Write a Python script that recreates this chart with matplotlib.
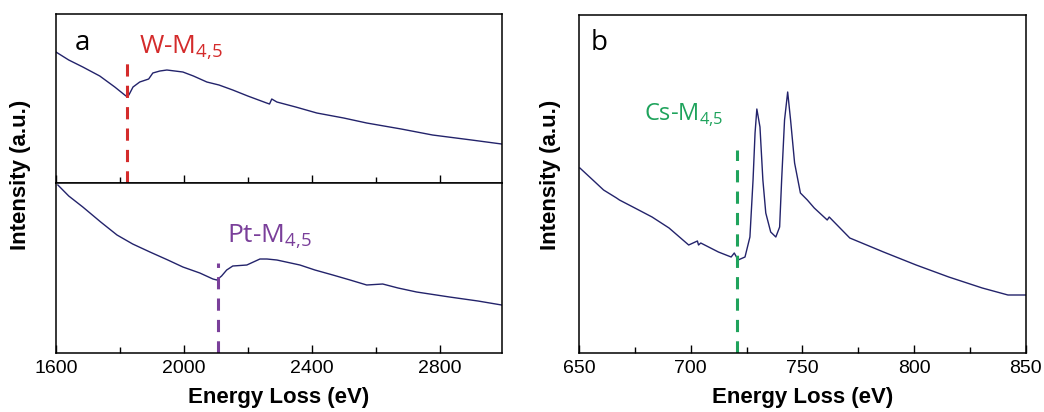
import numpy as np
import matplotlib
matplotlib.use("Agg")
import matplotlib.pyplot as plt
from matplotlib.ticker import MultipleLocator, NullLocator

# ---------------- data ----------------
# panel a, top: W-M4,5 edge
w_energy = [1600, 1640, 1684, 1737, 1784, 1819, 1828, 1841, 1862, 1890, 1903, 1925,
            1947, 1997, 2030, 2072, 2110, 2153, 2200, 2259, 2268, 2275, 2291,
            2350, 2416, 2500, 2572, 2680, 2778, 2900, 2994]
w_intensity = [131, 123, 116, 107, 96, 87, 88, 96, 101, 104, 110, 112,
               113, 111, 107, 101, 98, 93, 87, 80, 79, 84, 81,
               76, 70, 65, 60, 54, 48, 43, 39]

# panel a, bottom: Pt-M4,5 edge
pt_energy = [1606, 1640, 1684, 1740, 1791, 1840, 1894, 1950, 1997, 2050, 2091,
             2103, 2118, 2134, 2153, 2197, 2238, 2260, 2291, 2363, 2410, 2466,
             2520, 2572, 2622, 2670, 2728, 2831, 2920, 2994]
pt_intensity = [168, 157, 146, 131, 118, 109, 101, 93, 86, 80, 74,
                73, 77, 83, 87, 88, 94, 94, 93, 88, 83, 78,
                73, 68, 69, 65, 61, 56, 52, 48]

# panel b: Cs-M4,5 edge
cs_energy = [650.4, 656.2, 661.0, 666.8, 668.1, 675.0, 682.7, 690.3, 699.1, 703.0,
             703.5, 704.5, 712.4, 718.1, 719.5, 721.2, 724.3, 726.5, 727.9, 728.8,
             729.6, 731.0, 732.3, 733.6, 735.8, 738.1, 739.8, 740.7, 742.0, 743.4,
             744.7, 746.5, 749.1, 752.2, 755.3, 761.1, 762.0, 771.2, 786.3, 800.9,
             815.5, 830.5, 842.0, 850.0]
cs_intensity = [185, 173, 163, 155, 153, 145, 136, 125, 108, 112,
                108, 110, 101, 96, 100, 93, 96, 116, 173, 220,
                244, 226, 173, 140, 121, 116, 126, 173, 233, 261,
                233, 190, 160, 153, 145, 133, 136, 115, 101, 88,
                76, 65, 58, 58]

w_edge, pt_edge, cs_edge = 1822, 2106, 720.8

line_color = "#23236b"

plt.rcParams["font.family"] = ["Liberation Sans", "DejaVu Sans"]
plt.rcParams["mathtext.fontset"] = "custom"
plt.rcParams["mathtext.rm"] = "Open Sans"

fig = plt.figure(figsize=(10.44, 4.12), dpi=100)

ax_top = fig.add_axes([0.0536, 0.5558, 0.4272, 0.4102])
ax_bot = fig.add_axes([0.0536, 0.1432, 0.4272, 0.4126])
ax_b = fig.add_axes([0.5546, 0.1432, 0.4280, 0.8204])

for ax in (ax_top, ax_bot, ax_b):
    ax.yaxis.set_major_locator(NullLocator())
    ax.tick_params(axis="x", which="major", direction="in", length=6, width=1,
                   labelsize=14, pad=5)
    ax.tick_params(axis="x", which="minor", direction="in", length=4, width=1)
    for s in ax.spines.values():
        s.set_linewidth(1.1)

# ---- panel a ----
for ax in (ax_top, ax_bot):
    ax.set_xlim(1600, 2995)
    ax.xaxis.set_major_locator(MultipleLocator(400))
    ax.xaxis.set_minor_locator(MultipleLocator(200))
ax_top.tick_params(axis="x", labelbottom=False)

ax_top.plot(w_energy, w_intensity, color=line_color, lw=1)
ax_top.set_ylim(0, 169)
ax_top.plot([w_edge, w_edge], [0, 125], color="#d42b2b", lw=2.2, ls=(0, (4, 3)))
ax_top.text(1660, 133, "a", fontsize=20, family="Open Sans", color="black")
ax_top.text(1860, 130, r"W-M$_{\rm 4{,}5}$", fontsize=19, family="Open Sans",
            color="#d42b2b")

ax_bot.plot(pt_energy, pt_intensity, color=line_color, lw=1)
ax_bot.set_ylim(0, 170)
ax_bot.plot([pt_edge, pt_edge], [0, 90], color="#7a3f9a", lw=2.2, ls=(0, (4, 3)))
ax_bot.text(2135, 111, r"Pt-M$_{\rm 4{,}5}$", fontsize=19, family="Open Sans",
            color="#7a3f9a")
ax_bot.set_xlabel("Energy Loss (eV)", fontsize=16, fontweight="bold", labelpad=7)

fig.text(0.020, 0.575, "Intensity (a.u.)", rotation=90, fontsize=16,
         fontweight="bold", ha="center", va="center")

# ---- panel b ----
ax_b.plot(cs_energy, cs_intensity, color=line_color, lw=1)
ax_b.set_xlim(650, 850)
ax_b.set_ylim(0, 338)
ax_b.xaxis.set_major_locator(MultipleLocator(50))
ax_b.xaxis.set_minor_locator(MultipleLocator(25))
ax_b.plot([cs_edge, cs_edge], [0, 203], color="#1fa35c", lw=2.2, ls=(0, (4, 3)))
ax_b.text(655, 303, "b", fontsize=20, family="Open Sans", color="black")
ax_b.text(679, 232, r"Cs-M$_{\rm 4{,}5}$", fontsize=17, family="Open Sans",
          color="#1fa35c")
ax_b.set_xlabel("Energy Loss (eV)", fontsize=16, fontweight="bold", labelpad=7)
fig.text(0.527, 0.575, "Intensity (a.u.)", rotation=90, fontsize=16,
         fontweight="bold", ha="center", va="center")

fig.savefig("out.png", dpi=100)
